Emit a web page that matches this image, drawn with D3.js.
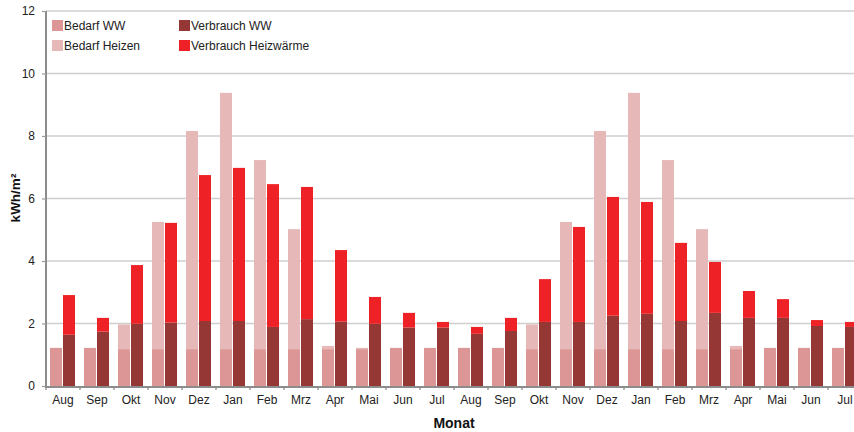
<!DOCTYPE html>
<html>
<head>
<meta charset="utf-8">
<script src="https://cdn.jsdelivr.net/npm/d3@7"></script>
<style>
  html, body { margin: 0; padding: 0; background: #fff; }
  svg { display: block; font-family: "Liberation Sans", Arial, Helvetica, sans-serif; }
</style>
</head>
<body>
<svg id="chart" width="854" height="432"></svg>
<script>
const months = ["Aug","Sep","Okt","Nov","Dez","Jan","Feb","Mrz","Apr","Mai","Jun","Jul",
                "Aug","Sep","Okt","Nov","Dez","Jan","Feb","Mrz","Apr","Mai","Jun","Jul"];
const bedarfWW     = [1.22,1.22,1.18,1.18,1.18,1.18,1.18,1.18,1.18,1.18,1.22,1.22,
                      1.22,1.22,1.18,1.18,1.18,1.18,1.18,1.18,1.18,1.22,1.22,1.22];
const bedarfHeizen = [0,0,0.79,4.07,6.98,8.20,6.05,3.84,0.10,0.04,0,0,
                      0,0,0.79,4.07,6.98,8.20,6.05,3.84,0.10,0,0,0];
const verbrauchWW  = [1.64,1.74,1.99,2.03,2.08,2.08,1.89,2.14,2.06,1.99,1.87,1.87,
                      1.67,1.76,2.05,2.05,2.25,2.31,2.08,2.34,2.18,2.18,1.92,1.89];
const verbrauchHeiz= [1.27,0.44,1.88,3.19,4.67,4.90,4.57,4.23,2.29,0.86,0.47,0.18,
                      0.22,0.42,1.37,3.04,3.80,3.58,2.50,1.63,0.86,0.60,0.19,0.16];
const yTicks = [0,2,4,6,8,10,12];
const colors = {"Bedarf WW":"#db9695","Bedarf Heizen":"#e6b9b8","Verbrauch WW":"#953735","Verbrauch Heizwärme":"#ee2226"};

const svg = d3.select("#chart");
const mLeft = 46, mRight = 862, mTop = 11, mBottom = 386;

const x = d3.scaleBand().domain(d3.range(months.length)).range([mLeft, mRight]).padding(0);
const sub = d3.scaleBand().domain(["B","V"]).range([4, 29]).paddingInner(0.0769);
const y = d3.scaleLinear().domain([0, 12]).range([mBottom, mTop]);

// gridlines
svg.append("g").selectAll("line").data(yTicks.filter(t => t > 0)).join("line")
  .attr("x1", mLeft).attr("x2", 854)
  .attr("y1", d => y(d)).attr("y2", d => y(d))
  .attr("stroke", "#cfcfcf").attr("stroke-width", 1.3);

// bars
const data = months.map((m, i) => ({
  i,
  stacks: [
    {key: "B", name: "Bedarf WW", y0: 0, y1: bedarfWW[i]},
    {key: "B", name: "Bedarf Heizen", y0: bedarfWW[i], y1: bedarfWW[i] + bedarfHeizen[i]},
    {key: "V", name: "Verbrauch WW", y0: 0, y1: verbrauchWW[i]},
    {key: "V", name: "Verbrauch Heizwärme", y0: verbrauchWW[i], y1: verbrauchWW[i] + verbrauchHeiz[i]}
  ]
}));
const gBars = svg.append("g");
data.forEach(d => {
  gBars.selectAll(null).data(d.stacks.filter(s => s.y1 > s.y0)).join("rect")
    .attr("x", s => x(d.i) + sub(s.key))
    .attr("width", sub.bandwidth())
    .attr("y", s => y(s.y1))
    .attr("height", s => y(s.y0) - y(s.y1))
    .attr("fill", s => colors[s.name]);
});

// y axis
const yAxis = svg.append("g").attr("transform", `translate(${mLeft},0)`)
  .call(d3.axisLeft(y).tickValues(yTicks).tickSize(4).tickPadding(7));
yAxis.select(".domain").attr("stroke", "#8c8c8c").attr("stroke-width", 2)
  .attr("d", `M0,${mTop}V${mBottom + 2}`);
yAxis.selectAll(".tick line").attr("stroke", "#9a9a9a").attr("stroke-width", 1.2);
yAxis.selectAll(".tick text").attr("fill", "#222").style("font-size", "12px");

// x axis
const xAxis = svg.append("g").attr("transform", `translate(0,${mBottom})`)
  .call(d3.axisBottom(x).tickFormat(i => months[i]).tickSize(0).tickPadding(9));
xAxis.select(".domain").attr("stroke", "#8c8c8c").attr("stroke-width", 2)
  .attr("d", `M${mLeft},1H${mRight}`);
xAxis.selectAll(".tick text").attr("fill", "#222").style("font-size", "12px");
svg.append("g").selectAll("line").data(d3.range(months.length + 1)).join("line")
  .attr("x1", i => (i < months.length ? x(i) : mRight))
  .attr("x2", i => (i < months.length ? x(i) : mRight))
  .attr("y1", mBottom).attr("y2", mBottom + 4)
  .attr("stroke", "#8c8c8c").attr("stroke-width", 1.3);

// axis titles
svg.append("text").attr("transform", `translate(20,198) rotate(-90)`)
  .attr("text-anchor", "middle").style("font-size", "13.5px").style("font-weight", "bold")
  .attr("fill", "#111")
  .text("kWh/m²");
svg.append("text").attr("x", (mLeft + mRight) / 2).attr("y", 428)
  .attr("text-anchor", "middle").style("font-size", "14px").style("font-weight", "bold")
  .attr("fill", "#111")
  .text("Monat");

// legend
const legendItems = [
  {name: "Bedarf WW", col: 0, row: 0},
  {name: "Verbrauch WW", col: 1, row: 0},
  {name: "Bedarf Heizen", col: 0, row: 1},
  {name: "Verbrauch Heizwärme", col: 1, row: 1}
];
const lg = svg.append("g");
const li = lg.selectAll("g").data(legendItems).join("g")
  .attr("transform", d => `translate(${52 + d.col * 127},${20 + d.row * 20})`);
li.append("rect").attr("width", 11).attr("height", 11).attr("fill", d => colors[d.name]);
li.append("text").attr("x", 12).attr("y", 10).style("font-size", "12px").attr("fill", "#222")
  .text(d => d.name);
</script>
</body>
</html>
